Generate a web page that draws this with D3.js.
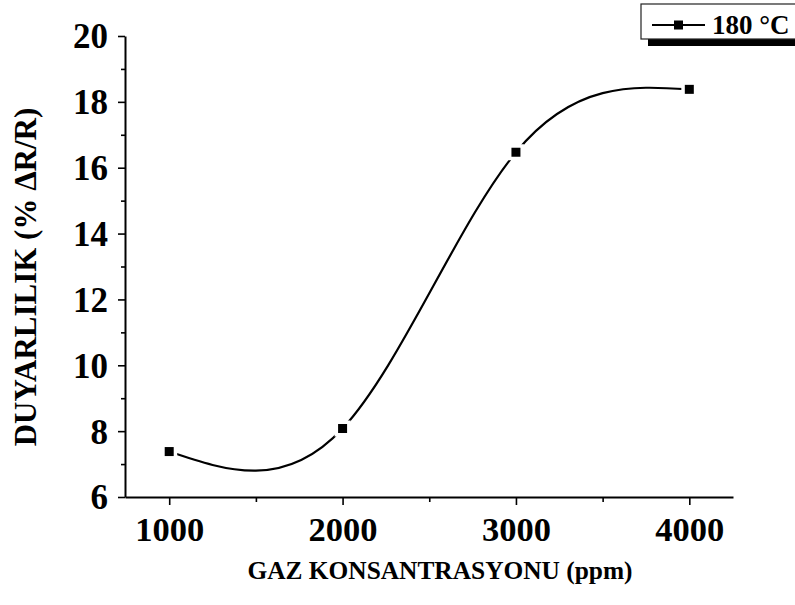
<html>
  <head>
    <script src="https://cdn.jsdelivr.net/npm/d3@7"></script>
    <style>
      * {
        margin: 0;
        padding: 0;
      }
      body {
        background-color: white;
      }
      text {
        font-family: "Liberation Serif", "Times New Roman", serif;
        font-weight: bold;
        fill: black;
      }
    </style>
  </head>
  <body>
    <svg id="chart" width="795" height="605"></svg>
    <script>
      // values
      const concentrations = [1000, 2000, 3000, 4000];
      const sensitivity = [7.38, 8.08, 16.47, 18.38];
      const xTicks = [1000, 2000, 3000, 4000];
      const xMinorTicks = [1500, 2500, 3500];
      const yTicks = [6, 8, 10, 12, 14, 16, 18, 20];
      const yMinorTicks = [7, 9, 11, 13, 15, 17, 19];
      const seriesName = "180 °C";

      const svg = d3.select("#chart");

      const plotLeft = 125;
      const plotRight = 733;
      const plotTop = 36;
      const plotBottom = 497;

      const x = d3.scaleLinear().domain([745, 4252]).range([plotLeft, plotRight]);
      const y = d3.scaleLinear().domain([6, 20]).range([plotBottom, plotTop]);

      // minor ticks first, no labels
      svg
        .append("g")
        .attr("transform", "translate(0," + plotBottom + ")")
        .call(d3.axisBottom(x).tickValues(xMinorTicks).tickSize(5).tickFormat("").tickSizeOuter(0))
        .call((g) => g.select(".domain").remove());
      svg
        .append("g")
        .attr("transform", "translate(" + plotLeft + ",0)")
        .call(d3.axisLeft(y).tickValues(yMinorTicks).tickSize(4).tickFormat("").tickSizeOuter(0))
        .call((g) => g.select(".domain").remove());

      const xAxis = svg
        .append("g")
        .attr("transform", "translate(0," + plotBottom + ")")
        .call(d3.axisBottom(x).tickValues(xTicks).tickSize(8).tickSizeOuter(0).tickFormat(d3.format("d")));
      xAxis.selectAll("text").attr("font-size", 34.5).attr("dy", 0).attr("y", 44);

      const yAxis = svg
        .append("g")
        .attr("transform", "translate(" + plotLeft + ",0)")
        .call(d3.axisLeft(y).tickValues(yTicks).tickSize(7).tickSizeOuter(0));
      yAxis.selectAll("text").attr("font-size", 35).attr("x", -17).attr("dy", "0.34em");

      svg.selectAll(".domain").attr("stroke-width", 2);
      svg.selectAll(".tick line").attr("stroke-width", 1.6);

      // axis titles
      svg
        .append("text")
        .attr("x", 440)
        .attr("y", 579)
        .attr("text-anchor", "middle")
        .attr("font-size", 25.4)
        .text("GAZ KONSANTRASYONU (ppm)");

      svg
        .append("text")
        .attr("transform", "translate(36,277) rotate(-90)")
        .attr("text-anchor", "middle")
        .attr("font-size", 31)
        .text("DUYARLILIK (% \u0394R/R)");

      const pts = concentrations.map((c, i) => [c, sensitivity[i]]);

      const line = d3
        .line()
        .x((d) => x(d[0]))
        .y((d) => y(d[1]))
        .curve(d3.curveNatural);

      svg
        .append("path")
        .attr("d", line(pts))
        .attr("fill", "none")
        .attr("stroke", "black")
        .attr("stroke-width", 2.2);

      // white gap around the symbols, then the symbols
      svg
        .selectAll(".halo")
        .data(pts)
        .enter()
        .append("rect")
        .attr("x", (d) => x(d[0]) - 8)
        .attr("y", (d) => y(d[1]) - 8)
        .attr("width", 16)
        .attr("height", 16)
        .attr("fill", "white");

      svg
        .selectAll(".pt")
        .data(pts)
        .enter()
        .append("rect")
        .attr("x", (d) => x(d[0]) - 4.5)
        .attr("y", (d) => y(d[1]) - 4.5)
        .attr("width", 9)
        .attr("height", 9)
        .attr("fill", "black");

      // legend
      const lg = svg.append("g");
      lg.append("rect").attr("x", 648).attr("y", 39).attr("width", 160).attr("height", 7).attr("fill", "black");
      lg.append("rect")
        .attr("x", 641)
        .attr("y", 4)
        .attr("width", 170)
        .attr("height", 35)
        .attr("fill", "white")
        .attr("stroke", "#222")
        .attr("stroke-width", 1.2);
      lg.append("line").attr("x1", 652).attr("x2", 705).attr("y1", 25).attr("y2", 25).attr("stroke", "black").attr("stroke-width", 2);
      lg.append("rect").attr("x", 674).attr("y", 20.5).attr("width", 9).attr("height", 9).attr("fill", "black");
      lg.append("text").attr("x", 712).attr("y", 34).attr("font-size", 27).text(seriesName);
    </script>
  </body>
</html>
